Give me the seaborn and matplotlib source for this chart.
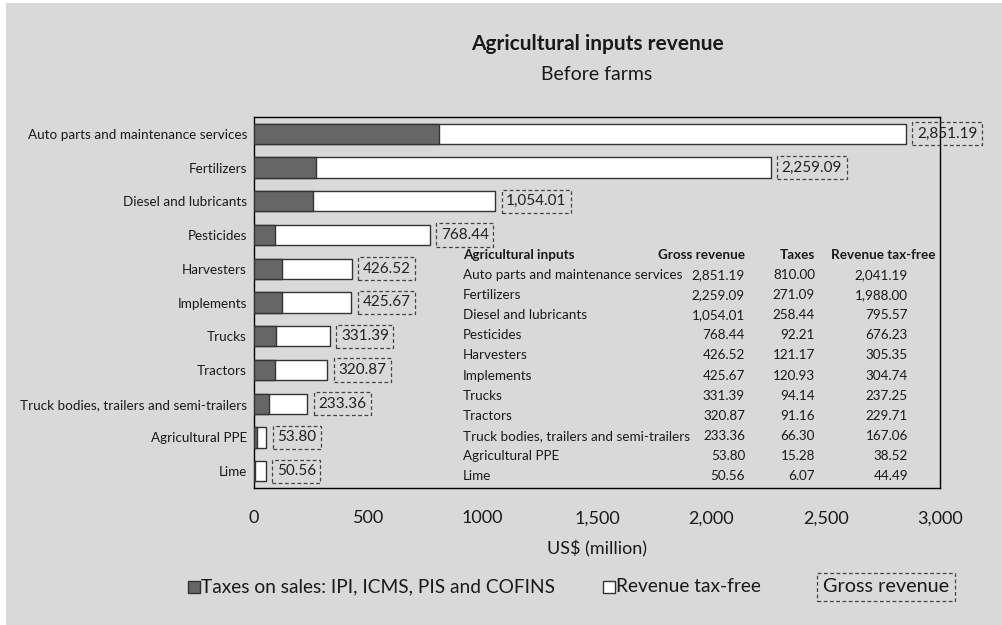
import matplotlib
matplotlib.use("Agg")
import matplotlib.pyplot as plt
from matplotlib.patches import Rectangle
import seaborn as sns
import pandas as pd

categories = [
    "Auto parts and maintenance services", "Fertilizers", "Diesel and lubricants",
    "Pesticides", "Harvesters", "Implements", "Trucks", "Tractors",
    "Truck bodies, trailers and semi-trailers", "Agricultural PPE", "Lime",
]
gross = [2851.19, 2259.09, 1054.01, 768.44, 426.52, 425.67, 331.39, 320.87, 233.36, 53.80, 50.56]
taxes = [810.00, 271.09, 258.44, 92.21, 121.17, 120.93, 94.14, 91.16, 66.30, 15.28, 6.07]
tax_free = [2041.19, 1988.00, 795.57, 676.23, 305.35, 304.74, 237.25, 229.71, 167.06, 38.52, 44.49]
x_ticks = [0, 500, 1000, 1500, 2000, 2500, 3000]
x_tick_labels = ["0", "500", "1000", "1,500", "2,000", "2,500", "3,000"]

df = pd.DataFrame({"input": categories, "gross": gross, "taxes": taxes, "tax_free": tax_free})

sns.set_theme(style="white")
plt.rcParams["font.family"] = ["Lato", "DejaVu Sans"]

BG = "#d9d9d9"
DARK = "#666666"
EDGE = "#333333"
INK = "#1a1a1a"

W, H = 1002, 625
fig = plt.figure(figsize=(W / 100, H / 100), dpi=100, facecolor=BG)
# thin white margin on the left and top edges
fig.patches.append(Rectangle((0, 0), 6 / W, 1, transform=fig.transFigure,
                             facecolor="white", edgecolor="none"))
fig.patches.append(Rectangle((0, 1 - 3 / H), 1, 3 / H, transform=fig.transFigure,
                             facecolor="white", edgecolor="none"))


def px(x0, y0, x1, y1):
    return [x0 / W, 1 - y1 / H, (x1 - x0) / W, (y1 - y0) / H]


ax = fig.add_axes(px(254, 117, 940, 488))
ax.set_facecolor(BG)

# Stacked bars: gross revenue in white, taxes drawn over it in dark grey
sns.barplot(data=df, x="gross", y="input", color="white", edgecolor=EDGE, linewidth=1.0,
            width=0.6, saturation=1, ax=ax, zorder=2)
sns.barplot(data=df, x="taxes", y="input", color=DARK, edgecolor=EDGE, linewidth=1.0,
            width=0.6, saturation=1, ax=ax, zorder=3)

ax.set_xlim(0, 3000)
ax.set_ylim(10.5, -0.5)
ax.set_xticks(x_ticks)
ax.set_xticklabels(x_tick_labels, fontsize=13, color=INK)
ax.tick_params(axis="x", direction="out", length=9, width=1, color="black", pad=7)
ax.tick_params(axis="y", length=0, labelsize=9.7, pad=5, labelcolor=INK)
ax.set_ylabel("")
ax.set_xlabel("US$ (million)", fontsize=13, labelpad=10, color=INK)
for s in ax.spines.values():
    s.set_visible(True)
    s.set_color("black")
    s.set_linewidth(1.0)

# Gross revenue labels in dashed boxes
for i, v in enumerate(gross):
    ax.annotate(f"{v:,.2f}", xy=(v, i), xytext=(8, 0), textcoords="offset points",
                ha="left", va="center", fontsize=11, color="#222222", zorder=5,
                annotation_clip=False,
                bbox=dict(boxstyle="square,pad=0.3", facecolor="none",
                          edgecolor="#444444", linestyle=(0, (3, 2)), linewidth=0.9))


# Data table inside the plotting area
def ay(ypx):
    return 1 - (ypx - 117) / 371


def axx(xpx):
    return (xpx - 254) / 686


hdr_y = ay(255)
tab_kw = dict(transform=ax.transAxes, fontsize=9.7, va="center", color=INK)
ax.text(axx(463), hdr_y, "Agricultural inputs", ha="left", fontweight="bold", **tab_kw)
ax.text(axx(745), hdr_y, "Gross revenue", ha="right", fontweight="bold", **tab_kw)
ax.text(axx(815), hdr_y, "Taxes", ha="right", fontweight="bold", **tab_kw)
ax.text(axx(936), hdr_y, "Revenue tax-free", ha="right", fontweight="bold", **tab_kw)
for i, row in df.iterrows():
    yy = ay(275 + 20.1 * i)
    ax.text(axx(463), yy, row["input"], ha="left", **tab_kw)
    ax.text(axx(745), yy, f"{row['gross']:,.2f}", ha="right", **tab_kw)
    ax.text(axx(815), yy, f"{row['taxes']:,.2f}", ha="right", **tab_kw)
    ax.text(axx(908), yy, f"{row['tax_free']:,.2f}", ha="right", **tab_kw)

# Titles
fig.text(597 / W, 1 - 44 / H, "Agricultural inputs revenue", ha="center", va="center",
         fontsize=15, fontweight="bold", color=INK)
fig.text(597 / W, 1 - 75 / H, "Before farms", ha="center", va="center",
         fontsize=14, color=INK)

# Legend
ly = 1 - 587 / H
fig.patches.append(Rectangle((188 / W, 1 - 593 / H), 12 / W, 12 / H, transform=fig.transFigure,
                             facecolor=DARK, edgecolor=EDGE, linewidth=1))
fig.text(201 / W, ly, "Taxes on sales: IPI, ICMS, PIS and COFINS", ha="left", va="center",
         fontsize=13.8, color=INK)
fig.patches.append(Rectangle((603 / W, 1 - 593 / H), 12 / W, 12 / H, transform=fig.transFigure,
                             facecolor="white", edgecolor=EDGE, linewidth=1))
fig.text(616 / W, ly, "Revenue tax-free", ha="left", va="center", fontsize=13.8, color=INK)
fig.text(823 / W, ly, "Gross revenue", ha="left", va="center", fontsize=14.3, color=INK,
         bbox=dict(boxstyle="square,pad=0.3", facecolor="none", edgecolor="#444444",
                   linestyle=(0, (3, 2)), linewidth=0.9))

fig.savefig("out.png", dpi=100, facecolor=BG)
